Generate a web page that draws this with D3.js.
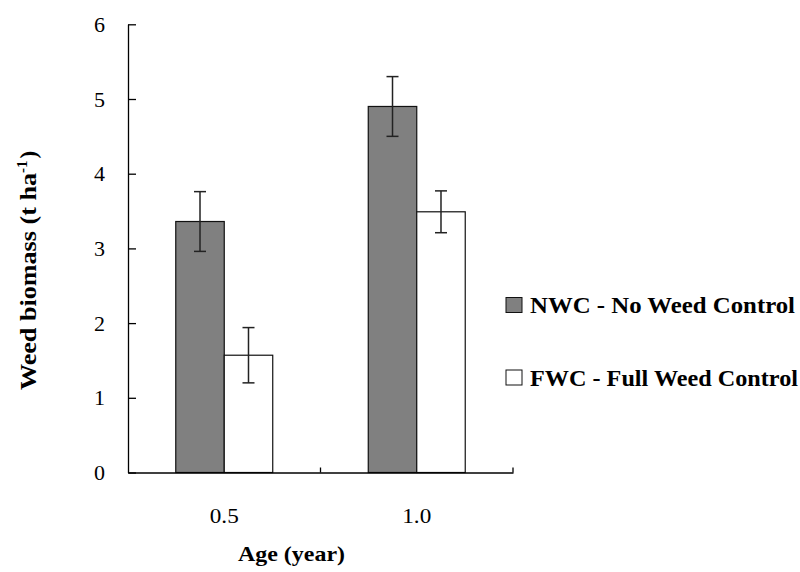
<!DOCTYPE html>
<html><head><meta charset="utf-8">
<script src="https://cdn.jsdelivr.net/npm/d3@7"></script>
<style>body{margin:0;background:#fff}svg{display:block}</style>
</head><body>
<script>
const categories = ["0.5", "1.0"];
const seriesNames = ["NWC - No Weed Control", "FWC - Full Weed Control"];
const nwc = [3.36, 4.90];
const fwc = [1.57, 3.49];
const nwcErr = [0.40, 0.40];
const fwcErr = [0.37, 0.28];
const yTicks = [0, 1, 2, 3, 4, 5, 6];

const W = 800, H = 572;
const font = "'Liberation Serif', 'Times New Roman', serif";
const svg = d3.select("body").append("svg").attr("width", W).attr("height", H);

const y = d3.scaleLinear().domain([0, 6]).range([472.5, 24.3]);
const x = d3.scaleBand().domain(categories).range([128, 513]).padding(0);
const xs = d3.scaleBand().domain(["NWC", "FWC"]).range([0, x.bandwidth()]).paddingInner(0).paddingOuter(0.985);

const data = categories.map((c, i) => [
  {cat: c, key: "NWC", v: nwc[i], e: nwcErr[i], fill: "#808080"},
  {cat: c, key: "FWC", v: fwc[i], e: fwcErr[i], fill: "#ffffff"}
]).flat();

// bars
svg.append("g").selectAll("rect").data(data).join("rect")
  .attr("x", d => x(d.cat) + xs(d.key))
  .attr("y", d => y(d.v))
  .attr("width", xs.bandwidth())
  .attr("height", d => y(0) - y(d.v))
  .attr("fill", d => d.fill)
  .attr("stroke", "#111").attr("stroke-width", 1.2);

// error bars
const eg = svg.append("g").attr("stroke", "#222").attr("stroke-width", 1.5);
data.forEach(d => {
  const cx = x(d.cat) + xs(d.key) + xs.bandwidth() / 2;
  eg.append("line").attr("x1", cx).attr("x2", cx).attr("y1", y(d.v + d.e)).attr("y2", y(d.v - d.e));
  eg.append("line").attr("x1", cx - 6).attr("x2", cx + 6).attr("y1", y(d.v + d.e)).attr("y2", y(d.v + d.e));
  eg.append("line").attr("x1", cx - 6).attr("x2", cx + 6).attr("y1", y(d.v - d.e)).attr("y2", y(d.v - d.e));
});

// y axis
const ya = svg.append("g").attr("transform", "translate(128,0)")
  .call(d3.axisLeft(y).tickValues(yTicks).tickFormat(d3.format("d")).tickSize(-8).tickSizeOuter(0).tickPadding(23));
ya.selectAll("text").attr("font-family", font).attr("font-size", 22).attr("fill", "#000");
ya.selectAll("line,path").attr("stroke", "#000").attr("stroke-width", 1.3);

// x axis
const xa = svg.append("g").attr("transform", `translate(0,${y(0)})`)
  .call(d3.axisBottom(x).tickSize(0).tickSizeOuter(0).tickPadding(35));
xa.selectAll("text").attr("font-family", font).attr("font-size", 22).attr("fill", "#000")
  .attr("textLength", 29).attr("lengthAdjust", "spacingAndGlyphs");
xa.select("path").attr("stroke", "#000").attr("stroke-width", 1.3);
// boundary ticks pointing up
const bounds = [x.range()[0] + x.bandwidth(), x.range()[1]];
xa.selectAll("line.bt").data(bounds).join("line").attr("class", "bt")
  .attr("x1", d => d).attr("x2", d => d).attr("y1", 0).attr("y2", -5)
  .attr("stroke", "#000").attr("stroke-width", 1.3);

// axis titles
svg.append("text").attr("x", 291.5).attr("y", 561).attr("text-anchor", "middle")
  .attr("font-family", font).attr("font-size", 22).attr("font-weight", "bold")
  .attr("textLength", 107).attr("lengthAdjust", "spacingAndGlyphs").text("Age (year)");
const yt = svg.append("text").attr("transform", "translate(36,390) rotate(-90)").attr("text-anchor", "start")
  .attr("font-family", font).attr("font-size", 23).attr("font-weight", "bold");
yt.append("tspan").attr("textLength", 217).attr("lengthAdjust", "spacingAndGlyphs").text("Weed biomass (t ha");
yt.append("tspan").attr("dy", -9).attr("font-size", 15).text("-1");
yt.append("tspan").attr("dy", 9).attr("dx", 2).text(")");

// legend
const legY = [297.5, 370];
const leg = svg.append("g");
seriesNames.forEach((s, i) => {
  leg.append("rect").attr("x", 506).attr("y", legY[i]).attr("width", 16).attr("height", 15)
    .attr("fill", i === 0 ? "#808080" : "#fff").attr("stroke", "#111").attr("stroke-width", 1);
  leg.append("text").attr("x", 530).attr("y", legY[i] + 15.5)
    .attr("font-family", font).attr("font-size", 23).attr("font-weight", "bold")
    .attr("textLength", i === 0 ? 265 : 268).attr("lengthAdjust", "spacingAndGlyphs").text(s);
});
</script>
</body></html>
